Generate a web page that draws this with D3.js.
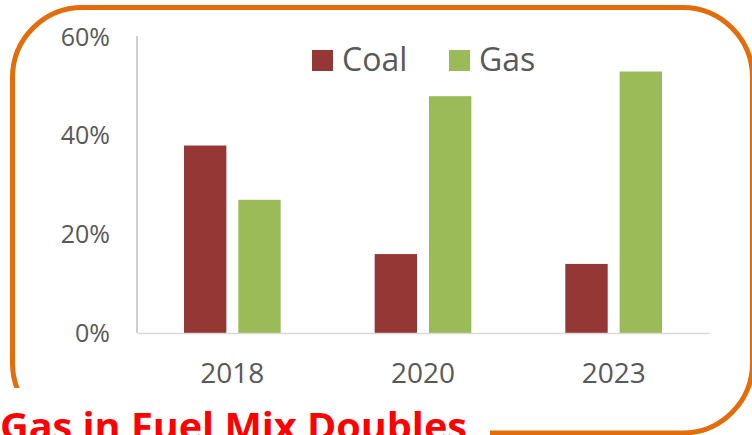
<!DOCTYPE html>
<html lang="en">
<head>
    <meta charset="UTF-8">
    <title>Gas in Fuel Mix Doubles</title>
    <script src="https://cdn.jsdelivr.net/npm/d3@7"></script>
    <style>
        body { margin: 0; background: #fff; }
        svg { display: block; }
    </style>
</head>
<body>
<div id="myDiv"></div>
<script>

    // Chart data
    const years = ["2018", "2020", "2023"];
    const seriesNames = ["Coal", "Gas"];
    const coal = [38, 16, 14];
    const gas = [27, 48, 53];
    const yTicks = [0, 20, 40, 60];
    const title = "Gas in Fuel Mix Doubles";

    const colors = {"Coal": "#953735", "Gas": "#9BBB59"};
    const values = {"Coal": coal, "Gas": gas};

    const width = 752, height = 435;
    const plotLeft = 137, plotRight = 709, plotTop = 37, plotBottom = 333;

    const svg = d3.select("#myDiv")
        .append("svg")
        .attr("width", width)
        .attr("height", height);

    // Orange frame
    svg.append("rect")
        .attr("x", 12.5)
        .attr("y", 7.5)
        .attr("width", 740)
        .attr("height", 425.5)
        .attr("rx", 70)
        .attr("fill", "none")
        .attr("stroke", "#E46C0A")
        .attr("stroke-width", 5);

    const x = d3.scaleBand()
        .domain(years)
        .range([plotLeft, plotRight])
        .paddingInner(0)
        .paddingOuter(0);

    const x1 = d3.scaleBand()
        .domain(seriesNames)
        .range([47, x.bandwidth() - 47])
        .paddingInner(0.22);

    const y = d3.scaleLinear()
        .domain([0, 60])
        .range([plotBottom, plotTop]);

    // Bars
    seriesNames.forEach(function(s) {
        svg.append("g")
            .selectAll("rect")
            .data(values[s])
            .enter()
            .append("rect")
            .attr("x", function(d, i) { return x(years[i]) + x1(s); })
            .attr("y", function(d) { return y(d); })
            .attr("width", x1.bandwidth())
            .attr("height", function(d) { return y(0) - y(d); })
            .attr("fill", colors[s]);
    });

    // Y axis
    const yAxis = svg.append("g")
        .attr("transform", "translate(" + plotLeft + ",0)")
        .call(d3.axisLeft(y).tickValues(yTicks).tickSize(0).tickPadding(27)
            .tickFormat(function(d) { return d + "%"; }));
    yAxis.select(".domain")
        .attr("stroke", "#BFBFBF")
        .attr("stroke-width", 1.5)
        .attr("d", "M0," + (plotTop - 1) + "V" + plotBottom);
    yAxis.selectAll("text")
        .attr("fill", "#595959")
        .style("font-family", "'Open Sans', sans-serif")
        .style("font-size", "25px");

    // X axis
    const xAxis = svg.append("g")
        .attr("transform", "translate(0," + plotBottom + ")")
        .call(d3.axisBottom(x).tickSize(0).tickPadding(30));
    xAxis.select(".domain")
        .attr("stroke", "#D9D9D9")
        .attr("stroke-width", 1.5);
    xAxis.selectAll("text")
        .attr("fill", "#595959")
        .style("font-family", "'Open Sans', sans-serif")
        .style("font-size", "28px");

    // Legend
    const legendX = [312, 449];
    const legend = svg.append("g")
        .selectAll("g")
        .data(seriesNames)
        .enter()
        .append("g")
        .attr("transform", function(d, i) { return "translate(" + legendX[i] + ",50)"; });
    legend.append("rect")
        .attr("width", 21)
        .attr("height", 21)
        .attr("fill", function(d) { return colors[d]; });
    legend.append("text")
        .attr("x", 30)
        .attr("y", 21)
        .attr("fill", "#595959")
        .style("font-family", "'Open Sans', sans-serif")
        .style("font-size", "32px")
        .text(function(d) { return d; });

    // Title box covering the frame corner
    svg.append("rect")
        .attr("x", 0)
        .attr("y", 388)
        .attr("width", 490)
        .attr("height", 47)
        .attr("fill", "#fff");

    // Title sits partly below the bottom edge, as in the source picture
    svg.append("text")
        .attr("x", 0)
        .attr("y", 440)
        .attr("fill", "#FF0000")
        .attr("textLength", 467)
        .attr("lengthAdjust", "spacingAndGlyphs")
        .style("font-family", "'Open Sans', sans-serif")
        .style("font-weight", "bold")
        .style("font-size", "37px")
        .text(title);

</script>
</body>
</html>
